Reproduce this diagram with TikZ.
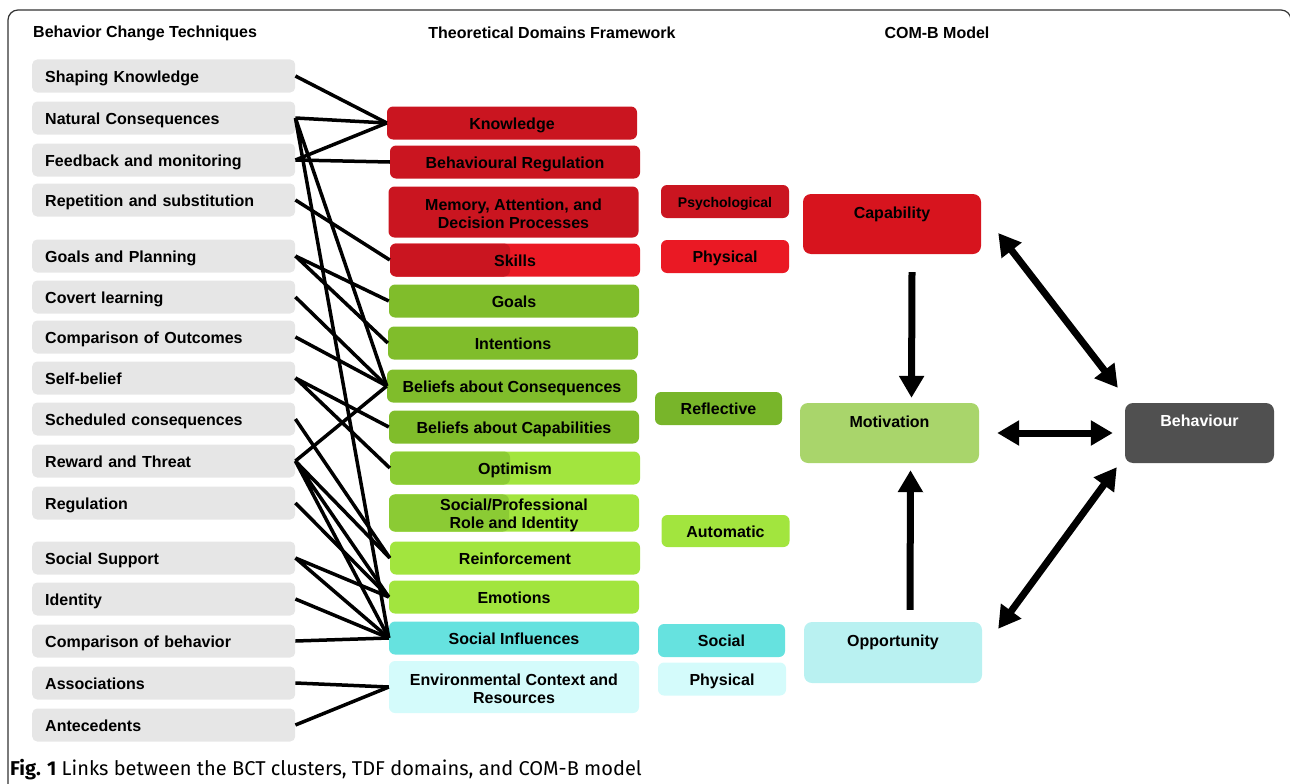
\documentclass[tikz,border=0pt]{standalone}
\usepackage{fontspec}
\setmainfont{Liberation Sans}
\newfontfamily\captionfont{Fira Sans}
\usetikzlibrary{positioning,arrows.meta}

\definecolor{bctgray}{HTML}{E6E6E6}
\definecolor{darkred}{HTML}{CA1520}
\definecolor{brightred}{HTML}{EA1924}
\definecolor{caperred}{HTML}{D7141E}
\definecolor{darkgreen}{HTML}{80BD2B}
\definecolor{shadegreen}{HTML}{8BCB34}
\definecolor{lightgreen}{HTML}{A2E53E}
\definecolor{reflgreen}{HTML}{78B52A}
\definecolor{motgreen}{HTML}{A9D56B}
\definecolor{socialcyan}{HTML}{66E2DF}
\definecolor{envcyan}{HTML}{D4FBFB}
\definecolor{oppcyan}{HTML}{B9F1F1}
\definecolor{behgray}{HTML}{505050}
\definecolor{framegray}{HTML}{333333}

\newcommand{\topgap}{\rule{0pt}{15.7pt}}

\tikzset{
  heading/.style={inner sep=0pt, font=\fontsize{16}{18}\selectfont\bfseries},
  oneline/.style={text height=12pt, text depth=0pt},
  bct/.style={fill=bctgray, rounded corners=5pt, anchor=west, minimum height=33pt,
    inner xsep=13pt, inner ysep=0pt, text width=237pt, align=left, oneline,
    font=\fontsize{16}{18}\selectfont\bfseries},
  tdf/.style={rounded corners=6pt, minimum width=250pt, minimum height=33pt,
    inner sep=0pt, align=center, font=\fontsize{16}{18}\selectfont\bfseries},
  sub/.style={rounded corners=6pt, minimum width=128pt, minimum height=33pt,
    inner sep=0pt, oneline, font=\fontsize{16}{18}\selectfont\bfseries},
  comb/.style={rounded corners=8pt, minimum width=178pt, inner sep=0pt,
    text height=24.7pt, text depth=35.3pt, font=\fontsize{16}{18}\selectfont\bfseries},
  halfshade/.style={path picture={\fill[#1, rounded corners=6pt]
    (path picture bounding box.south west) rectangle
    ([xshift=120pt]path picture bounding box.north west);}},
  link/.style={line width=3.5pt},
  oneway/.style={line width=7pt, -{Triangle[length=22pt,width=24pt]}},
  twoway/.style={line width=7pt, {Triangle[length=22pt,width=24pt]}-{Triangle[length=22pt,width=24pt]}}
}

\begin{document}
\begin{tikzpicture}[x=1pt, y=-1pt]
\useasboundingbox (0,0) rectangle (1290,784);
\draw[framegray, line width=1.2pt, rounded corners=10pt] (8,800) -- (8,10) -- (1291,10) -- (1291,800);

\node[heading, anchor=west] (bcthead) at (33,33) {Behavior Change Techniques};
\node[heading] (tdfhead) at (552,33) {Theoretical Domains Framework};
\node[heading] (combhead) at (937,33) {COM-B Model};

% behavior change techniques
\node[bct] (shapeknow) at (32,76) {Shaping Knowledge};
\node[bct] (natcons) at (32,118) {Natural Consequences};
\node[bct] (feedback) at (32,160) {Feedback and monitoring};
\node[bct] (repsub) at (32,200) {Repetition and substitution};
\node[bct] (goalplan) at (32,256) {Goals and Planning};
\node[bct] (covert) at (32,297) {Covert learning};
\node[bct] (compout) at (32,337) {Comparison of Outcomes};
\node[bct] (selfbel) at (32,378) {Self-belief};
\node[bct] (schedcons) at (32,419) {Scheduled consequences};
\node[bct] (reward) at (32,461) {Reward and Threat};
\node[bct] (regul) at (32,503) {Regulation};
\node[bct] (socsupp) at (32,558) {Social Support};
\node[bct] (identity) at (32,599) {Identity};
\node[bct] (compbeh) at (32,641) {Comparison of behavior};
\node[bct] (assoc) at (32,683) {Associations};
\node[bct] (antec) at (32,725) {Antecedents};

% theoretical domains
\node[tdf, oneline, fill=darkred] (knowledge) at (512,123) {Knowledge};
\node[tdf, oneline, fill=darkred] (behreg) at (515,162) {Behavioural Regulation};
\node[tdf, fill=darkred, minimum height=51pt] (memory) at (513.5,212) {\topgap Memory, Attention, and\\Decision Processes};
\node[tdf, oneline, fill=brightred, halfshade=darkred] (skills) at (515,260) {Skills};
\node[tdf, oneline, fill=darkgreen] (goals) at (514,301) {Goals};
\node[tdf, oneline, fill=darkgreen] (intent) at (513,343) {Intentions};
\node[tdf, oneline, fill=darkgreen] (belcons) at (512,386) {Beliefs about Consequences};
\node[tdf, oneline, fill=darkgreen] (belcap) at (514,427) {Beliefs about Capabilities};
\node[tdf, oneline, fill=lightgreen, halfshade=shadegreen] (optim) at (515,468) {Optimism};
\node[tdf, fill=lightgreen, halfshade=shadegreen, minimum height=36pt] (sprole) at (514,513) {\topgap Social/Professional\\Role and Identity};
\node[tdf, oneline, fill=lightgreen] (reinf) at (515,558) {Reinforcement};
\node[tdf, oneline, fill=lightgreen] (emotion) at (514,597) {Emotions};
\node[tdf, oneline, fill=socialcyan] (socinf) at (514,638) {Social Influences};
\node[tdf, fill=envcyan, minimum height=52pt] (envcont) at (514,687) {\topgap Environmental Context and\\Resources};

% com-b components
\node[sub, fill=darkred, font=\fontsize{14}{16}\selectfont\bfseries] (psych) at (725,201.5) {Psychological};
\node[sub, fill=brightred] (physcap) at (725,256.5) {Physical};
\node[sub, fill=reflgreen, minimum width=127pt] (reflect) at (718.5,408.5) {Reflective};
\node[sub, fill=lightgreen, minimum height=32pt] (automat) at (725.5,531) {Automatic};
\node[sub, fill=socialcyan, minimum width=127pt] (social) at (721.5,640.5) {Social};
\node[sub, fill=envcyan] (physopp) at (722,679) {Physical};

\node[comb, fill=caperred] (capab) at (892,224) {Capability};
\node[comb, fill=motgreen, minimum width=179pt] (motiv) at (889.5,433) {Motivation};
\node[comb, fill=oppcyan, text depth=36.3pt] (opport) at (893,652.5) {Opportunity};
\node[comb, fill=behgray, text=white, minimum width=149pt, text height=23.7pt, text depth=36.3pt] (behav) at (1199.5,433) {Behaviour};

% links
\draw[link] (shapeknow.east) -- (knowledge.west);
\draw[link] (natcons.east) -- (knowledge.west) (natcons.east) -- (belcons.west) (natcons.east) -- (socinf.west);
\draw[link] (feedback.east) -- (knowledge.west) (feedback.east) -- (behreg.west);
\draw[link] (repsub.east) -- (skills.west);
\draw[link] (goalplan.east) -- (goals.west) (goalplan.east) -- (intent.west);
\draw[link] (covert.east) -- (belcons.west);
\draw[link] (compout.east) -- (belcons.west);
\draw[link] (selfbel.east) -- (belcap.west) (selfbel.east) -- (optim.west);
\draw[link] (schedcons.east) -- (reinf.west);
\draw[link] (reward.east) -- (belcons.west) (reward.east) -- (reinf.west) (reward.east) -- (emotion.west) (reward.east) -- (socinf.west);
\draw[link] (regul.east) -- (emotion.west);
\draw[link] (socsupp.east) -- (emotion.west) (socsupp.east) -- (socinf.west);
\draw[link] (identity.east) -- (socinf.west);
\draw[link] (compbeh.east) -- (socinf.west);
\draw[link] (assoc.east) -- (envcont.west);
\draw[link] (antec.east) -- (envcont.west);

% com-b arrows
\draw[oneway] ([xshift=20pt,yshift=-18pt]capab.south) -- ([xshift=22pt,yshift=5pt]motiv.north);
\draw[oneway] ([xshift=17pt,yshift=12pt]opport.north) -- ([xshift=21pt,yshift=-7pt]motiv.south);
\draw[twoway] ([xshift=18pt]motiv.east) -- ([xshift=-12pt]behav.west);
\draw[twoway] ([xshift=17pt,yshift=-9pt]capab.east) -- ([xshift=-7pt,yshift=15pt]behav.north west);
\draw[twoway] ([xshift=16pt,yshift=-7pt]opport.north east) -- ([xshift=-8pt,yshift=-4pt]behav.south west);

\node[anchor=base west, inner sep=0pt, font=\captionfont\fontsize{20}{24}\selectfont] (caption) at (10,775)
  {\textbf{Fig. 1} Links between the BCT clusters, TDF domains, and COM-B model};
\end{tikzpicture}
\end{document}
